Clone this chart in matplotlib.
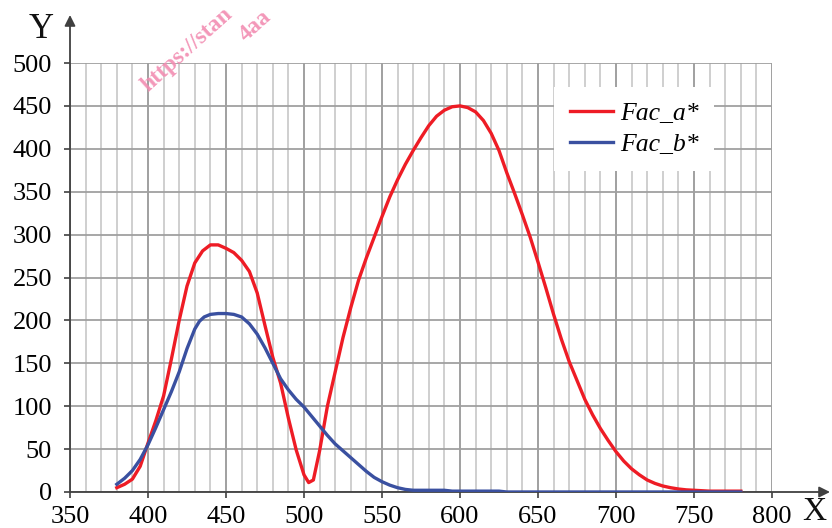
import numpy as np
import matplotlib
matplotlib.use("Agg")
import matplotlib.pyplot as plt

# Fac_a* (red)
wl_a = [380, 385, 390, 395, 400, 405, 410, 415, 420, 425, 430, 435, 440, 445, 450,
        455, 460, 465, 470, 475, 480, 485, 490, 495, 500, 503, 506, 510, 515, 520,
        525, 530, 535, 540, 545, 550, 555, 560, 565, 570, 575, 580, 585, 590, 595,
        600, 605, 610, 615, 620, 625, 630, 635, 640, 645, 650, 655, 660, 665, 670,
        675, 680, 685, 690, 695, 700, 705, 710, 715, 720, 725, 730, 735, 740, 745,
        750, 760, 770, 780]
fac_a = [5, 9, 15, 30, 57, 83, 112, 155, 200, 240, 267, 281, 288, 288, 284,
         279, 270, 257, 232, 194, 157, 127, 86, 49, 20, 11, 14, 48, 100, 140,
         180, 215, 247, 273, 297, 321, 344, 364, 382, 398, 413, 427, 438, 445, 449,
         450, 448, 443, 433, 418, 398, 372, 348, 323, 297, 268, 238, 207, 178, 152,
         130, 108, 90, 74, 60, 47, 36, 27, 20, 14, 10, 7, 5, 3.5, 2.5,
         2, 1, 1, 1]

# Fac_b* (blue)
wl_b = [380, 385, 390, 395, 400, 405, 410, 415, 420, 425, 430, 433, 436, 440, 445,
        450, 455, 460, 465, 470, 475, 480, 485, 490, 495, 500, 505, 510, 515, 520,
        525, 530, 535, 540, 545, 550, 555, 560, 565, 570, 590, 595, 625, 630, 780]
fac_b = [9, 16, 25, 38, 55, 75, 96, 117, 140, 167, 190, 199, 204, 207, 208,
         208, 207, 204, 196, 184, 168, 150, 132, 119, 108, 99, 88, 77, 66, 56,
         48, 40, 32, 24, 17, 12, 8, 5, 3, 2, 2, 1, 1, 0, 0]

x_ticks = np.arange(350, 801, 50)
y_ticks = np.arange(0, 501, 50)

plt.rcParams['font.family'] = ['Liberation Serif', 'DejaVu Serif']

W, H = 832, 528
fig = plt.figure(figsize=(W / 100, H / 100), dpi=100)
ax = fig.add_axes([70 / W, (H - 492) / H, (772 - 70) / W, (492 - 63) / H])

ax.set_xlim(350, 800)
ax.set_ylim(0, 500)
ax.set_xticks(x_ticks)
ax.set_yticks(y_ticks)
ax.set_xticks(np.arange(350, 801, 10), minor=True)

# grid
ax.grid(True, which='minor', axis='x', color='#cccccc', lw=1.3, zorder=0)
ax.grid(True, which='major', axis='x', color='#999999', lw=1.3, zorder=0)
ax.grid(True, which='major', axis='y', color='#a0a0a0', lw=1.3, zorder=0)

for s in ax.spines.values():
    s.set_visible(False)

ax.tick_params(axis='both', which='major', labelsize=19, length=4, width=1.2,
               color='#404040', direction='out')
ax.tick_params(axis='x', which='major', pad=6)
ax.tick_params(axis='y', which='major', pad=9)
ax.tick_params(axis='x', which='minor', length=0)

# axis lines with arrows
ax.annotate('', xy=((830 - 70) / 702, 0), xytext=(0, 0), xycoords='axes fraction',
            arrowprops=dict(arrowstyle='-|>', color='#404040', lw=1.3,
                            mutation_scale=16, shrinkA=0, shrinkB=0),
            annotation_clip=False)
ax.annotate('', xy=(0, (492 - 15) / 429), xytext=(0, 0), xycoords='axes fraction',
            arrowprops=dict(arrowstyle='-|>', color='#404040', lw=1.3,
                            mutation_scale=16, shrinkA=0, shrinkB=0),
            annotation_clip=False)

ax.plot(wl_a, fac_a, color='#ee1c25', lw=2.4, label='Fac_a*', zorder=3)
ax.plot(wl_b, fac_b, color='#3a50a0', lw=2.4, label='Fac_b*', zorder=3)

leg = ax.legend(loc='upper left', bbox_to_anchor=(0.69, 0.945), frameon=True,
                fancybox=False, edgecolor='none', facecolor='white', framealpha=1,
                prop=dict(family='Liberation Serif', style='italic', size=18.5),
                handlelength=1.7, handletextpad=0.25, labelspacing=0.3,
                borderpad=0.6, borderaxespad=0)
leg.get_frame().set_linewidth(0)

fig.text(29 / W, 1 - 38 / H, 'Y', fontsize=25, color='#111111')
fig.text(826 / W, 1 / H, 'X', fontsize=24, color='#111111', ha='right',
         va='bottom')

# watermark (kept inside the canvas)
fig.text(148 / W, 1 - 92 / H, 'https://stan', fontsize=17, fontweight='bold',
         color='#f28cb1', rotation=42, rotation_mode='anchor', ha='left',
         va='baseline', alpha=0.9)
fig.text(246 / W, 1 - 42 / H, '4aa', fontsize=17, fontweight='bold',
         color='#f28cb1', rotation=42, rotation_mode='anchor', ha='left',
         va='baseline', alpha=0.9)

fig.savefig('out.png', dpi=100)
